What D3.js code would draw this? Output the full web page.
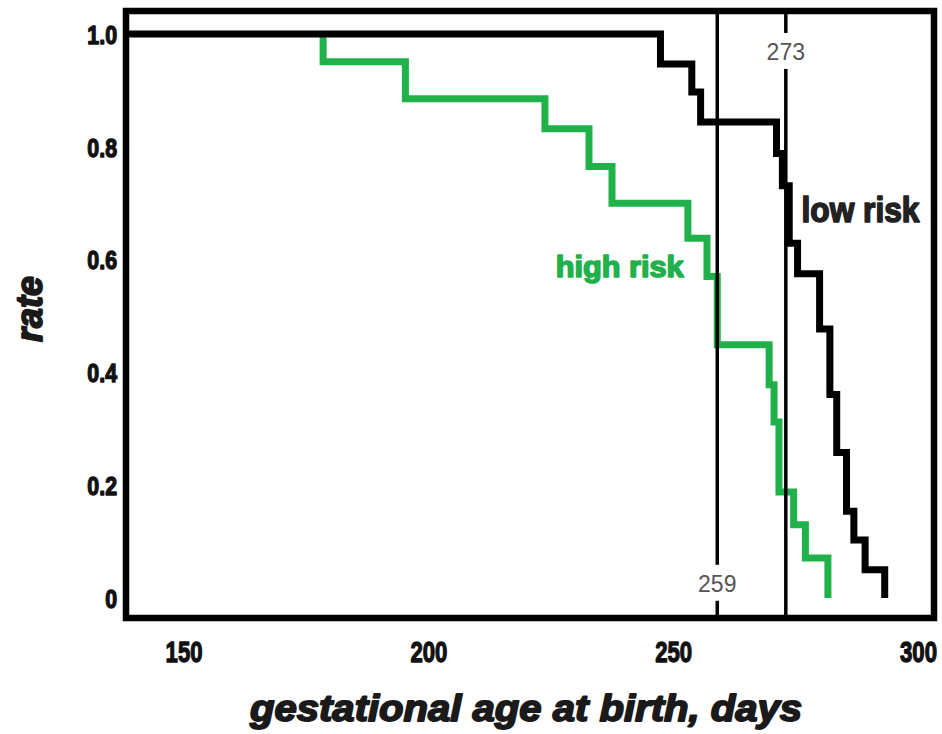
<!DOCTYPE html>
<html><head><meta charset="utf-8">
<script src="https://cdn.jsdelivr.net/npm/d3@7"></script>
<style>body{margin:0;background:#fff;} svg{display:block}</style>
</head><body>
<script>
// ---- data ----
const xTicks = [150, 200, 250, 300];
const xTickLabels = ["150", "200", "250", "300"];
const yTicks = [0, 0.2, 0.4, 0.6, 0.8, 1.0];
const yTickLabels = ["0", "0.2", "0.4", "0.6", "0.8", "1.0"];

const lowRiskDays = [138.6, 247.4, 253.8, 255.6, 271.1, 272.3, 273.7, 275.4, 279.9, 282.0, 283.4, 285.4, 286.9, 289.2, 293.2];
const lowRiskRate = [1.0, 0.947, 0.897, 0.844, 0.788, 0.731, 0.629, 0.575, 0.477, 0.361, 0.258, 0.154, 0.103, 0.05, 0.0];

const highRiskDays = [178.5, 178.5, 195.3, 223.8, 232.8, 237.5, 253.0, 256.9, 259.0, 269.6, 270.6, 271.6, 274.6, 277.0, 281.6];
const highRiskRate = [1.0, 0.951, 0.885, 0.832, 0.765, 0.700, 0.638, 0.570, 0.449, 0.378, 0.312, 0.188, 0.130, 0.071, 0.0];

const refDays = [259, 273];
const refLabels = ["259", "273"];
const refLabelRate = [0.011, 0.954];

const seriesNames = ["low risk", "high risk"];
const seriesLabelPos = [[276.2, 0.667], [226.0, 0.569]];

// ---- layout ----
const W = 942, H = 734;
const frame = {left: 126, right: 934, top: 11, bottom: 618};
const BLACK = "#000", GREEN = "#21b14b";

const svg = d3.select("body").append("svg").attr("width", W).attr("height", H);

const x = d3.scaleLinear().domain([150, 300]).range([183.6, 918]);
const y = d3.scaleLinear().domain([0, 1]).range([598, 34]);

function heavy(sel, color, sw) {
  sel.attr("fill", color).attr("stroke", color).attr("stroke-width", sw)
     .attr("stroke-linejoin", "round").attr("paint-order", "stroke");
}

// lines
const line = d3.line().x(d => x(d[0])).y(d => y(d[1])).curve(d3.curveStepAfter);
const highData = highRiskDays.map((d, i) => [d, highRiskRate[i]]);
const lowData = lowRiskDays.map((d, i) => [d, lowRiskRate[i]]);

svg.append("path").datum(highData).attr("d", line)
  .attr("fill", "none").attr("stroke", GREEN).attr("stroke-width", 7)
  .attr("stroke-linejoin", "miter").attr("stroke-linecap", "butt");
svg.append("path").datum(lowData).attr("d", line)
  .attr("fill", "none").attr("stroke", BLACK).attr("stroke-width", 7)
  .attr("stroke-linejoin", "miter").attr("stroke-linecap", "butt");

// reference lines
svg.selectAll("line.ref").data(refDays).join("line").attr("class", "ref")
  .attr("x1", d => x(d)).attr("x2", d => x(d))
  .attr("y1", frame.top).attr("y2", frame.bottom)
  .attr("stroke", BLACK).attr("stroke-width", 3.5);

// reference labels with white backgrounds
refDays.forEach((d, i) => {
  const g = svg.append("g");
  const t = g.append("text").attr("x", x(d)).attr("y", y(refLabelRate[i]))
    .attr("text-anchor", "middle")
    .attr("font-family", "Liberation Sans, Arial, sans-serif")
    .attr("font-size", 23).attr("fill", "#555").text(refLabels[i]);
  const bb = t.node().getBBox();
  g.insert("rect", "text").attr("x", bb.x - 2).attr("y", bb.y - 6)
    .attr("width", bb.width + 4).attr("height", bb.height + 10).attr("fill", "#fff");
});

// frame
svg.append("rect").attr("x", frame.left).attr("y", frame.top)
  .attr("width", frame.right - frame.left).attr("height", frame.bottom - frame.top)
  .attr("fill", "none").attr("stroke", BLACK).attr("stroke-width", 6.5);

// series labels
const lowLab = svg.append("text").attr("x", x(seriesLabelPos[0][0])).attr("y", y(seriesLabelPos[0][1]))
  .attr("font-family", "Liberation Sans, Arial, sans-serif").attr("font-weight", "bold")
  .attr("font-size", 35).attr("textLength", 118).attr("lengthAdjust", "spacingAndGlyphs")
  .text(seriesNames[0]);
heavy(lowLab, "#222", 1.6);
const highLab = svg.append("text").attr("x", x(seriesLabelPos[1][0])).attr("y", y(seriesLabelPos[1][1]))
  .attr("font-family", "Liberation Sans, Arial, sans-serif").attr("font-weight", "bold")
  .attr("font-size", 30).attr("textLength", 128).attr("lengthAdjust", "spacingAndGlyphs")
  .text(seriesNames[1]);
heavy(highLab, GREEN, 1.6);

// y axis labels
const yAxis = d3.axisLeft(y).tickValues(yTicks).tickSize(0).tickPadding(0)
  .tickFormat((d, i) => yTickLabels[i]);
const yg = svg.append("g").attr("transform", "translate(117,0)").call(yAxis);
yg.select(".domain").remove();
yg.selectAll("text")
  .attr("font-family", "Liberation Sans, Arial, sans-serif").attr("font-weight", "bold")
  .attr("font-size", 26).attr("dy", "0.36em")
  .attr("transform", "scale(0.82,1)")
  .each(function() { heavy(d3.select(this), "#111", 1.4); });

// x axis labels
const xAxis = d3.axisBottom(x).tickValues(xTicks).tickSize(0).tickPadding(0)
  .tickFormat((d, i) => xTickLabels[i]);
const xg = svg.append("g").attr("transform", "translate(0,640)").call(xAxis);
xg.select(".domain").remove();
xg.selectAll("text")
  .attr("font-family", "Liberation Sans, Arial, sans-serif").attr("font-weight", "bold")
  .attr("font-size", 30).attr("dy", "0.72em")
  .attr("transform", "scale(0.74,1)")
  .each(function() { heavy(d3.select(this), "#111", 1.3); });

// axis titles
const xt = svg.append("text").attr("x", 526).attr("y", 721).attr("text-anchor", "middle")
  .attr("font-family", "Liberation Sans, Arial, sans-serif").attr("font-weight", "bold")
  .attr("font-style", "italic").attr("font-size", 37)
  .attr("textLength", 552).attr("lengthAdjust", "spacingAndGlyphs")
  .text("gestational age at birth, days");
heavy(xt, "#1a1a1a", 1.8);

const yt = svg.append("text").attr("transform", "translate(42,309) rotate(-90)")
  .attr("text-anchor", "middle")
  .attr("font-family", "Liberation Sans, Arial, sans-serif").attr("font-weight", "bold")
  .attr("font-style", "italic").attr("font-size", 37)
  .attr("textLength", 66).attr("lengthAdjust", "spacingAndGlyphs")
  .text("rate");
heavy(yt, "#1a1a1a", 1.8);
</script>
</body></html>
